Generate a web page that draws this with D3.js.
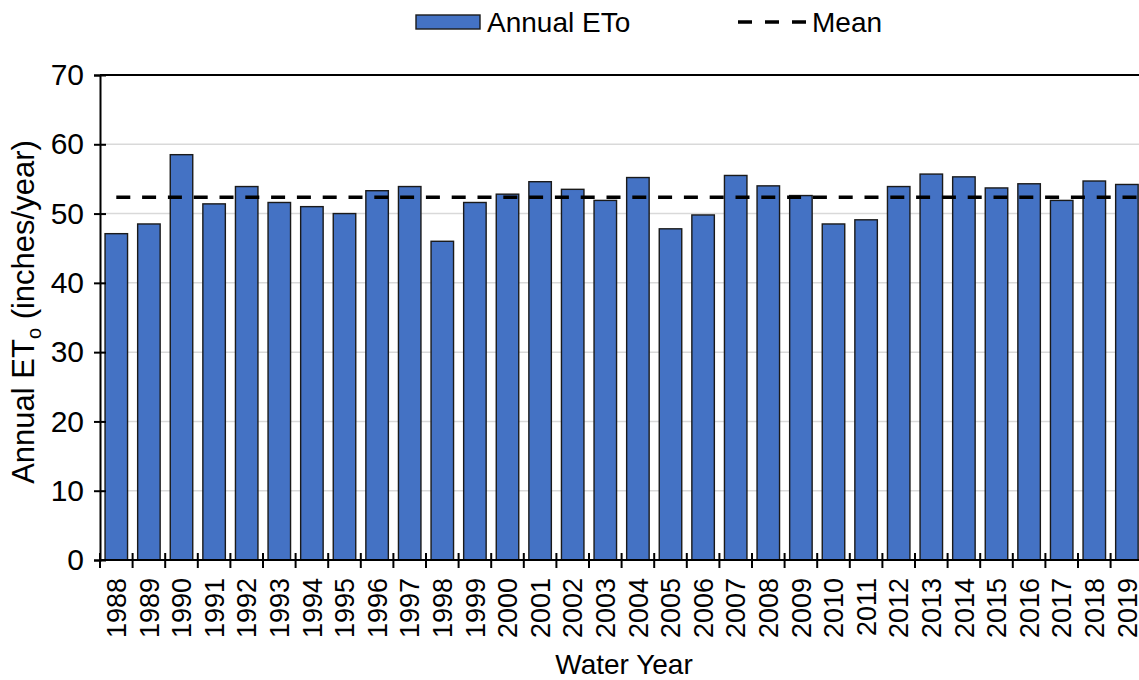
<!DOCTYPE html>
<html>
<head>
<meta charset="utf-8">
<script src="https://cdn.jsdelivr.net/npm/d3@7"></script>
<style>
  html, body { margin: 0; padding: 0; background: #fff; }
  svg { display: block; font-family: "Liberation Sans", Arial, sans-serif; }
</style>
</head>
<body>
<svg id="chart" width="1139" height="680"></svg>
<script>
const years = ["1988","1989","1990","1991","1992","1993","1994","1995","1996","1997",
  "1998","1999","2000","2001","2002","2003","2004","2005","2006","2007",
  "2008","2009","2010","2011","2012","2013","2014","2015","2016","2017","2018","2019"];
const annualETo = [47.1,48.5,58.5,51.4,53.9,51.6,51.0,50.0,53.3,53.9,
  46.0,51.6,52.8,54.6,53.5,51.9,55.2,47.8,49.8,55.5,
  54.0,52.6,48.5,49.1,53.9,55.7,55.3,53.7,54.3,51.9,54.7,54.2];
const yTicks = [0,10,20,30,40,50,60,70];
const seriesNames = ["Annual ETo", "Mean"];
const meanValue = d3.mean(annualETo);

const svg = d3.select("#chart");
const mLeft = 100, mTop = 75, mBottom = 560;
const step = 32.6;
const mRight = mLeft + step * years.length;

const x = d3.scaleBand().domain(years).range([mLeft, mRight]).paddingInner(0.31).paddingOuter(0.155);
const y = d3.scaleLinear().domain([0, 70]).range([mBottom, mTop]);

// gridlines
svg.append("g").selectAll("line").data(yTicks.filter(t => t > 0 && t < 70)).join("line")
  .attr("x1", mLeft).attr("x2", mRight)
  .attr("y1", d => y(d)).attr("y2", d => y(d))
  .attr("stroke", "#d9d9d9").attr("stroke-width", 1.5);

// top border line at 70
svg.append("line").attr("x1", mLeft).attr("x2", mRight)
  .attr("y1", y(70)).attr("y2", y(70)).attr("stroke", "#000").attr("stroke-width", 2);

// bars
svg.append("g").selectAll("rect").data(years).join("rect")
  .attr("x", d => x(d))
  .attr("width", x.bandwidth())
  .attr("y", (d, i) => y(annualETo[i]))
  .attr("height", (d, i) => y(0) - y(annualETo[i]))
  .attr("fill", "#4472C4")
  .attr("stroke", "#1a1a1a")
  .attr("stroke-width", 1.4);

// mean line
svg.append("line")
  .attr("x1", x(years[0]) + x.bandwidth() / 2)
  .attr("x2", mRight)
  .attr("y1", y(meanValue)).attr("y2", y(meanValue))
  .attr("stroke", "#000").attr("stroke-width", 3.5)
  .attr("stroke-dasharray", "14,11.8");

// y axis
const yAxis = svg.append("g").attr("transform", `translate(${mLeft},0)`)
  .call(d3.axisLeft(y).tickValues(yTicks).tickSize(6).tickPadding(10));
yAxis.select(".domain").attr("stroke", "#000").attr("stroke-width", 2);
yAxis.selectAll(".tick line").attr("x2", 6).attr("x1", -6).attr("stroke-width", 2);
yAxis.selectAll(".tick text").attr("font-size", 30).attr("fill", "#000")
  .attr("font-family", "Liberation Sans, Arial, sans-serif");

// x axis
const xFont = 27;
const boundaries = d3.range(years.length + 1).map(i => mLeft + i * step);
const xAxis = svg.append("g").attr("transform", `translate(0,${mBottom})`);
xAxis.append("line").attr("x1", mLeft).attr("x2", mRight).attr("stroke", "#000").attr("stroke-width", 2);
xAxis.selectAll("line.tk").data(boundaries).join("line").attr("class", "tk")
  .attr("x1", d => d).attr("x2", d => d).attr("y1", -7).attr("y2", 8)
  .attr("stroke", "#000").attr("stroke-width", 2);
xAxis.selectAll("text").data(years).join("text")
  .attr("transform", d => `translate(${x(d) + x.bandwidth() / 2 + 0.36 * xFont},${18}) rotate(-90)`)
  .attr("text-anchor", "end")
  .attr("font-size", xFont)
  .text(d => d);

// axis titles
svg.append("text").attr("x", 624).attr("y", 674).attr("text-anchor", "middle")
  .attr("font-size", 28).text("Water Year");

const yt = svg.append("text").attr("transform", "translate(34,312) rotate(-90)")
  .attr("text-anchor", "middle").attr("font-size", 31);
yt.append("tspan").text("Annual ET");
yt.append("tspan").attr("font-size", 20).attr("dy", 7).text("o");
yt.append("tspan").attr("dy", -7).text(" (inches/year)");

// legend
const lg = svg.append("g");
lg.append("rect").attr("x", 416).attr("y", 15).attr("width", 64).attr("height", 14)
  .attr("fill", "#4472C4").attr("stroke", "#1a1a1a").attr("stroke-width", 1.4);
lg.append("text").attr("x", 487).attr("y", 32).attr("font-size", 28).text(seriesNames[0]);
lg.append("line").attr("x1", 738).attr("x2", 806).attr("y1", 22).attr("y2", 22)
  .attr("stroke", "#000").attr("stroke-width", 3.5).attr("stroke-dasharray", "14,13");
lg.append("text").attr("x", 812).attr("y", 32).attr("font-size", 28).text(seriesNames[1]);
</script>
</body>
</html>
